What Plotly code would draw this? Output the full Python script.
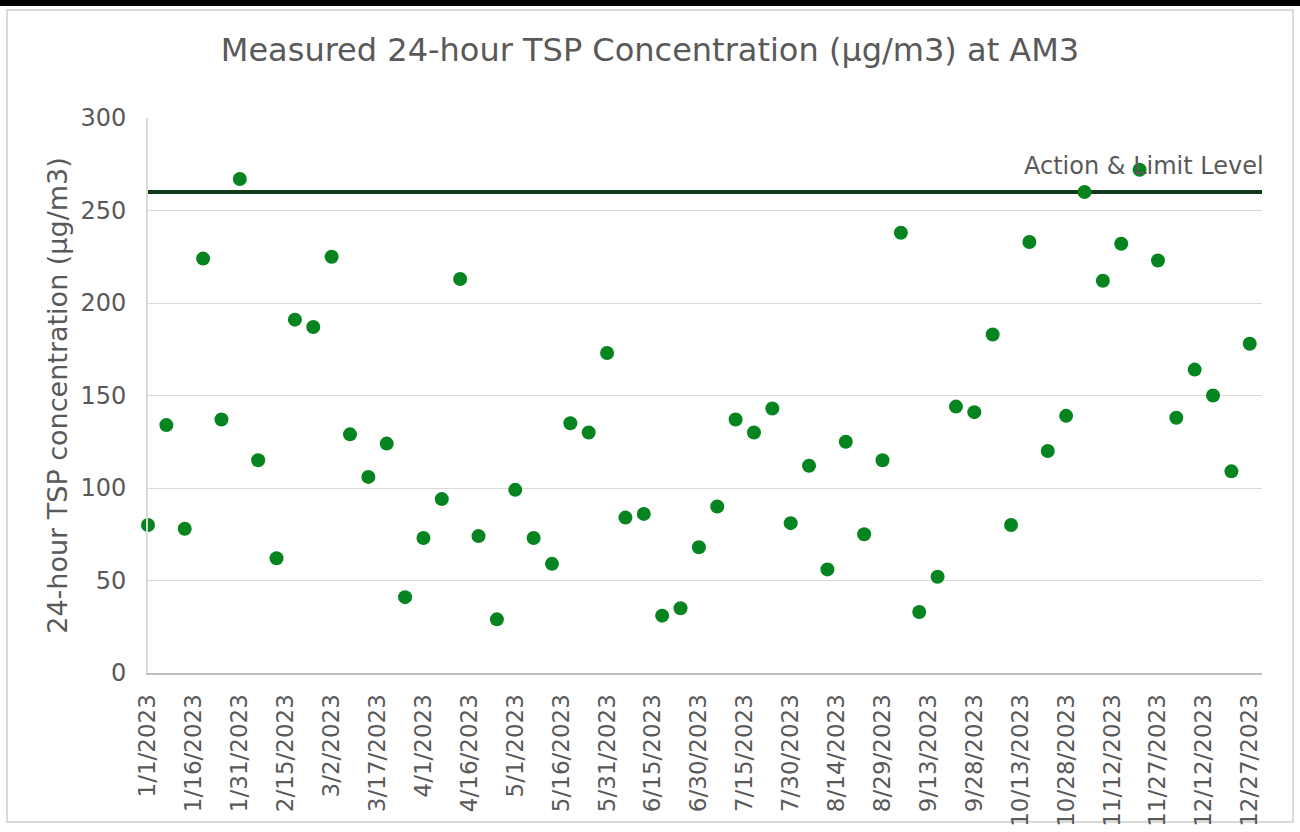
import pandas as pd
import plotly.graph_objects as go

# Sampling dates (every 6 days)
dates = pd.date_range("2023-01-01", "2023-12-27", freq="6D")

tsp_values = [80, 134, 78, 224, 137, 267, 115, 62, 191, 187,
              225, 129, 106, 124, 41, 73, 94, 213, 74, 29,
              99, 73, 59, 135, 130, 173, 84, 86, 31, 35,
              68, 90, 137, 130, 143, 81, 112, 56, 125, 75,
              115, 238, 33, 52, 144, 141, 183, 80, 233, 120,
              139, 260, 212, 232, 272, 223, 138, 164, 150, 109,
              178]

limit_level = 260
limit_label = "Action & Limit Level"
tick_dates = pd.date_range("2023-01-01", "2023-12-27", freq="15D")
tick_labels = [f"{d.month}/{d.day}/{d.year}" for d in tick_dates]

title_text = "Measured 24-hour TSP Concentration (µg/m3) at AM3"
y_title = "24-hour TSP concentration (µg/m3)"

FONT = "DejaVu Sans"
GREY = "#595959"

fig = go.Figure()
fig.add_trace(go.Scatter(
    x=["2023-01-01", "2023-12-31"], y=[limit_level, limit_level],
    mode="lines", line=dict(color="#0f3a17", width=4),
    hoverinfo="skip", showlegend=False, cliponaxis=False))
fig.add_trace(go.Scatter(
    x=dates, y=tsp_values, mode="markers",
    marker=dict(color="#05841f", size=14, line=dict(width=0)),
    showlegend=False, cliponaxis=False))

fig.add_annotation(
    text=limit_label, xref="paper", x=1.0036, xanchor="right",
    yref="y", y=limit_level, yanchor="bottom", yshift=10,
    showarrow=False, font=dict(family=FONT, size=24, color=GREY))

# outer border and top bar
fig.add_shape(type="rect", xref="paper", yref="paper",
              x0=-0.1266, x1=1.0278, y0=-0.2685, y1=1.1946,
              line=dict(color="#d9d9d9", width=2), layer="below")
fig.add_shape(type="rect", xref="paper", yref="paper",
              x0=-0.14, x1=1.04, y0=1.2018, y1=1.22,
              line=dict(width=0), fillcolor="black")

fig.update_layout(
    width=1300, height=832,
    margin=dict(l=148, r=38, t=118, b=159),
    paper_bgcolor="white", plot_bgcolor="white",
    font=dict(family=FONT, color=GREY),
    title=dict(text=title_text, x=0.5, xanchor="center",
               y=1 - 50 / 832, yanchor="middle",
               font=dict(family=FONT, size=32, color=GREY)),
    xaxis=dict(
        type="date", range=["2023-01-01", "2023-12-31"], automargin=False,
        tickmode="array", tickvals=tick_dates, ticktext=tick_labels,
        tickangle=-90, tickfont=dict(family=FONT, size=23, color=GREY),
        showgrid=False, showline=True, linecolor="#bfbfbf", linewidth=2,
        ticks="outside", ticklen=10, tickcolor="white", zeroline=False),
    yaxis=dict(
        range=[0, 300], tickmode="linear", tick0=0, dtick=50, automargin=False,
        tickfont=dict(family=FONT, size=24, color=GREY),
        showgrid=True, gridcolor="#d9d9d9", gridwidth=1,
        showline=True, linecolor="#d9d9d9", linewidth=2,
        ticks="outside", ticklen=15, tickcolor="white",
        zeroline=False,
        title=dict(text=y_title, font=dict(family=FONT, size=27, color=GREY),
                   standoff=5)),
)

fig.write_html("out.html", config={"displayModeBar": False},
               post_script="document.body.style.margin='0';")
